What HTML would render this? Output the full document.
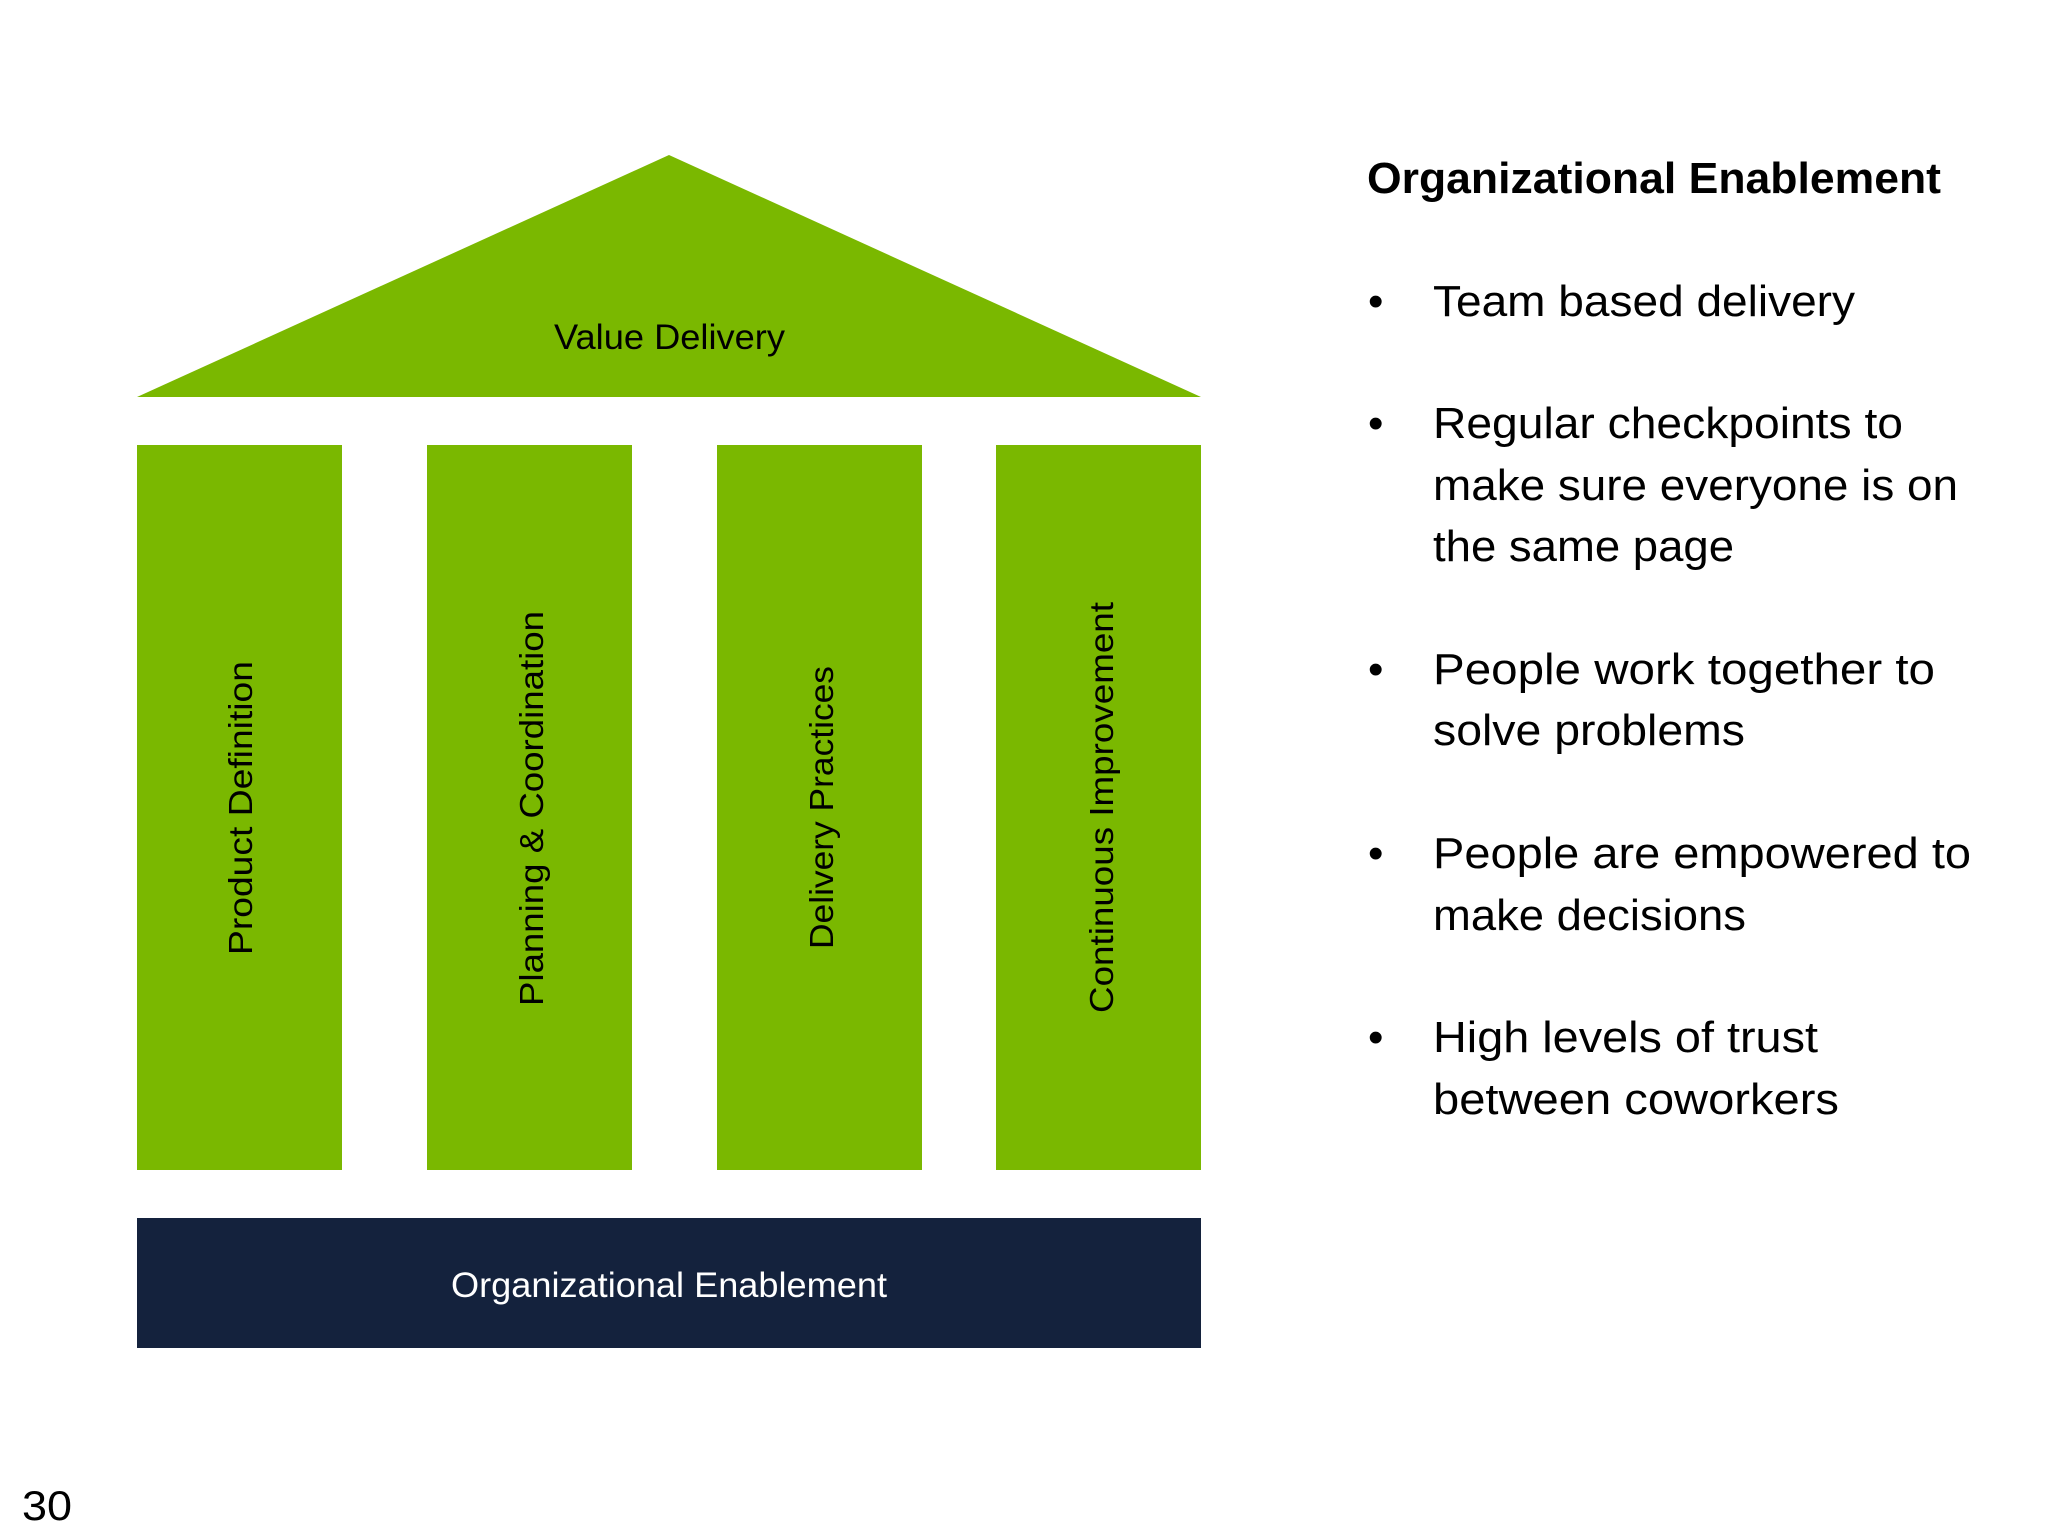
<!DOCTYPE html>
<html><head><meta charset="utf-8"><style>html,body{margin:0;padding:0;background:#fff}svg{display:block}</style></head>
<body>
<svg width="2048" height="1536" viewBox="0 0 2048 1536" xmlns="http://www.w3.org/2000/svg" font-family="'Liberation Sans', sans-serif">
<rect width="2048" height="1536" fill="#fff"/>
<polygon points="669,155 137,397 1201,397" fill="#7ab800"/>
<rect x="137" y="445" width="205" height="725" fill="#7ab800"/>
<rect x="427" y="445" width="205" height="725" fill="#7ab800"/>
<rect x="717" y="445" width="205" height="725" fill="#7ab800"/>
<rect x="996" y="445" width="205" height="725" fill="#7ab800"/>
<rect x="137" y="1218" width="1064" height="130" fill="#14223d"/>
<text x="554" y="349" font-size="35" textLength="231" lengthAdjust="spacingAndGlyphs" fill="#000">Value Delivery</text>
<text x="451" y="1297" font-size="35" textLength="436" lengthAdjust="spacingAndGlyphs" fill="#fff">Organizational Enablement</text>
<g font-size="33" fill="#000">
<text transform="translate(252,955) rotate(-90)" textLength="294" lengthAdjust="spacingAndGlyphs">Product Definition</text>
<text transform="translate(543,1006) rotate(-90)" textLength="395" lengthAdjust="spacingAndGlyphs">Planning &amp; Coordination</text>
<text transform="translate(833,949) rotate(-90)" textLength="283" lengthAdjust="spacingAndGlyphs">Delivery Practices</text>
<text transform="translate(1113,1013) rotate(-90)" textLength="411" lengthAdjust="spacingAndGlyphs">Continuous Improvement</text>
</g>
<text x="1367" y="193" font-size="44" font-weight="bold" textLength="574" lengthAdjust="spacingAndGlyphs">Organizational Enablement</text>
<g font-size="44" fill="#000">
<text x="1368" y="316">•</text>
<text x="1433" y="316" textLength="422" lengthAdjust="spacingAndGlyphs">Team based delivery</text>
<text x="1368" y="438">•</text>
<text x="1433" y="438" textLength="470" lengthAdjust="spacingAndGlyphs">Regular checkpoints to</text>
<text x="1433" y="500" textLength="525" lengthAdjust="spacingAndGlyphs">make sure everyone is on</text>
<text x="1433" y="561" textLength="301" lengthAdjust="spacingAndGlyphs">the same page</text>
<text x="1368" y="684">•</text>
<text x="1433" y="684" textLength="502" lengthAdjust="spacingAndGlyphs">People work together to</text>
<text x="1433" y="745" textLength="312" lengthAdjust="spacingAndGlyphs">solve problems</text>
<text x="1368" y="868">•</text>
<text x="1433" y="868" textLength="538" lengthAdjust="spacingAndGlyphs">People are empowered to</text>
<text x="1433" y="930" textLength="313" lengthAdjust="spacingAndGlyphs">make decisions</text>
<text x="1368" y="1052">•</text>
<text x="1433" y="1052" textLength="385" lengthAdjust="spacingAndGlyphs">High levels of trust</text>
<text x="1433" y="1114" textLength="406" lengthAdjust="spacingAndGlyphs">between coworkers</text>
</g>
<text x="22" y="1520" font-size="42" textLength="50" lengthAdjust="spacingAndGlyphs">30</text>
</svg>
</body></html>
